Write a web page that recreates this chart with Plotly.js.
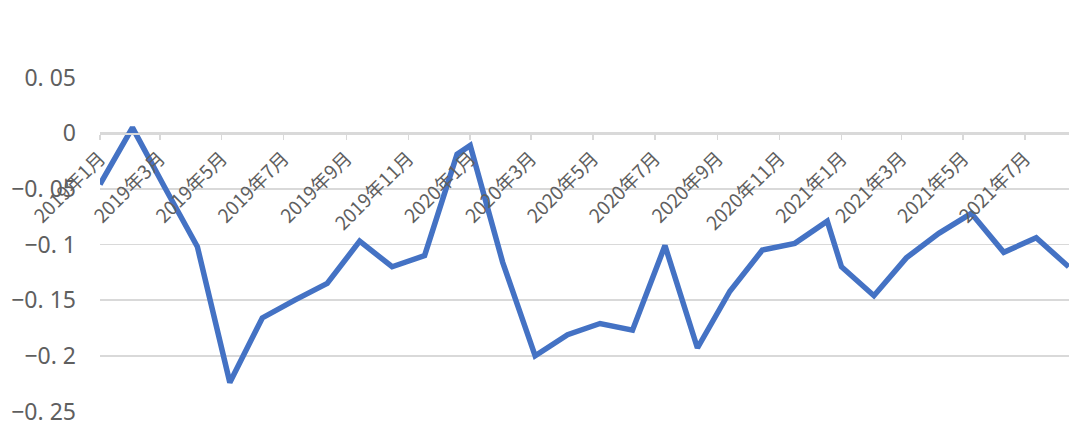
<!DOCTYPE html>
<html>
<head>
<meta charset="utf-8">
<script src="https://cdn.plot.ly/plotly-3.0.1.min.js"></script>
<style>
  html, body { margin: 0; padding: 0; background: #ffffff; }
  #chart { width: 1083px; height: 435px; }
</style>
</head>
<body>
<div id="chart"></div>
<script>
// Observation dates of each point
const dates = [
  "2019-01-01", "2019-02-02", "2019-03-06", "2019-04-07", "2019-05-09", "2019-06-10",
  "2019-07-12", "2019-08-13", "2019-09-14", "2019-10-16", "2019-11-17", "2019-12-19",
  "2020-01-01", "2020-02-02", "2020-03-05", "2020-04-06", "2020-05-08", "2020-06-09",
  "2020-07-11", "2020-08-12", "2020-09-13", "2020-10-15", "2020-11-16", "2020-12-18",
  "2021-01-01", "2021-02-02", "2021-03-06", "2021-04-07", "2021-05-09", "2021-06-10",
  "2021-07-12", "2021-08-13"
];

// Series values
const values = [
  -0.046, 0.005, -0.049, -0.102, -0.224, -0.166,
  -0.150, -0.135, -0.097, -0.120, -0.110, -0.019,
  -0.011, -0.116, -0.200, -0.181, -0.171, -0.177,
  -0.101, -0.193, -0.142, -0.105, -0.099, -0.079,
  -0.120, -0.146, -0.112, -0.090, -0.072, -0.107,
  -0.094, -0.120
];

// Y axis ticks
const yTickVals = [0.05, 0, -0.05, -0.1, -0.15, -0.2, -0.25];
const yTickText = ["0. 05", "0", "\u22120. 05", "\u22120. 1", "\u22120. 15", "\u22120. 2", "\u22120. 25"];

const yRange = [-0.2505, 0.0505];
const zeroPos = (0 - yRange[0]) / (yRange[1] - yRange[0]);

const cjkFont = "'Noto Sans CJK SC', 'Noto Sans', sans-serif";
const numFont = "'Noto Sans', 'Noto Sans CJK SC', sans-serif";

const trace = {
  type: "scatter",
  mode: "lines",
  x: dates,
  y: values,
  line: { color: "#4472C4", width: 5.5, shape: "linear" },
  hoverinfo: "skip"
};

const layout = {
  width: 1083,
  height: 435,
  margin: { l: 100, r: 14, t: 77, b: 23, pad: 0 },
  paper_bgcolor: "#ffffff",
  plot_bgcolor: "#ffffff",
  showlegend: false,
  font: { family: cjkFont, color: "#595959" },
  xaxis: {
    type: "date",
    range: ["2019-01-01", "2021-08-13 08:00"],
    tick0: "2019-01-01",
    dtick: "M2",
    tickformat: "%Y年%-m月",
    tickangle: -45,
    tickfont: { family: cjkFont, size: 19, color: "#5f5f5f" },
    ticks: "outside",
    ticklen: 5,
    tickwidth: 1.5,
    tickcolor: "#d9d9d9",
    showgrid: false,
    showline: true,
    linecolor: "#d9d9d9",
    linewidth: 1.5,
    zeroline: false,
    anchor: "free",
    position: zeroPos,
    automargin: false,
    fixedrange: true
  },
  yaxis: {
    range: yRange,
    tickmode: "array",
    tickvals: yTickVals,
    ticktext: yTickText,
    tickfont: { family: numFont, size: 23, color: "#5f5f5f" },
    ticks: "",
    ticklabelstandoff: 23,
    showgrid: true,
    gridcolor: "#d9d9d9",
    gridwidth: 1.5,
    zeroline: false,
    showline: false,
    automargin: false,
    fixedrange: true
  }
};

Plotly.newPlot("chart", [trace], layout, { displayModeBar: false, staticPlot: true });
</script>
</body>
</html>
